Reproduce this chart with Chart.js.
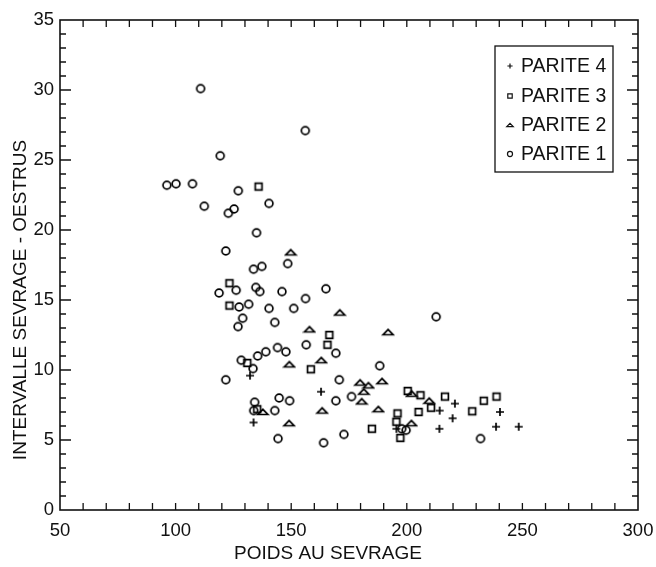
<!DOCTYPE html>
<html lang="fr">
<head>
    <meta charset="UTF-8">
    <title>Intervalle sevrage - oestrus</title>
    <style>
        body { margin: 0; background: #ffffff; }
        .chart-container { position: relative; width: 656px; height: 567px; }
    </style>
</head>
<body>
    <div class="chart-container">
        <canvas id="graphique"></canvas>
    </div>

    <script src="https://cdn.jsdelivr.net/npm/chart.js"></script>
    <script>
        // Données
        const parite1X = [96.2, 100.2, 107.3, 110.8, 112.4, 119.3, 122.8, 125.3, 127.1, 140.4, 156.1, 135.0, 121.7, 133.7, 137.3, 148.5,
            118.8, 126.2, 134.7, 136.4, 146.0, 156.2, 165.0, 127.5, 131.6, 140.4, 151.1, 129.0, 127.0, 142.9, 212.7,
            156.5, 144.1, 147.7, 139.0, 135.5, 169.3, 128.4, 133.5, 121.7, 170.8, 188.3,
            134.2, 133.8, 142.9, 144.8, 149.3, 169.3, 176.1, 144.3, 164.0, 172.8, 197.8, 199.7, 231.9];
        const parite1Y = [23.2, 23.3, 23.3, 30.1, 21.7, 25.3, 21.2, 21.5, 22.8, 21.9, 27.1, 19.8, 18.5, 17.2, 17.4, 17.6,
            15.5, 15.7, 15.9, 15.6, 15.6, 15.1, 15.8, 14.5, 14.7, 14.4, 14.4, 13.7, 13.1, 13.4, 13.8,
            11.8, 11.6, 11.3, 11.3, 11.0, 11.2, 10.7, 10.1, 9.3, 9.3, 10.3,
            7.7, 7.1, 7.1, 8.0, 7.8, 7.8, 8.1, 5.1, 4.8, 5.4, 5.8, 5.7, 5.1];

        const parite2X = [149.8, 171.0, 157.9, 191.9, 149.2, 163.0, 179.8, 189.3, 183.4, 181.4, 180.5, 187.7, 163.4, 137.7, 149.1, 202.0, 202.1, 209.7];
        const parite2Y = [18.4, 14.1, 12.9, 12.7, 10.4, 10.7, 9.1, 9.2, 8.9, 8.45, 7.75, 7.2, 7.1, 7.0, 6.2, 6.2, 8.3, 7.8];

        const parite3X = [135.9, 123.3, 123.3, 131.0, 166.5, 165.7, 158.5, 135.3, 184.9, 196.0, 195.5, 197.2, 200.4, 205.9, 205.1, 210.5, 216.5, 228.3, 233.3, 238.8];
        const parite3Y = [23.1, 16.2, 14.6, 10.5, 12.5, 11.8, 10.05, 7.2, 5.8, 6.9, 6.3, 5.15, 8.5, 8.2, 7.0, 7.3, 8.1, 7.05, 7.8, 8.1];

        const parite4X = [132.2, 133.7, 162.9, 195.5, 214.2, 214.1, 220.8, 219.8, 240.3, 238.6, 248.4];
        const parite4Y = [9.6, 6.25, 8.45, 5.8, 7.1, 5.8, 7.6, 6.55, 7.0, 5.95, 5.95];

        const legendeNoms = ['PARITE 4', 'PARITE 3', 'PARITE 2', 'PARITE 1'];
        const ticksX = [50, 100, 150, 200, 250, 300];
        const ticksY = [0, 5, 10, 15, 20, 25, 30, 35];

        const encre = '#111111';
        const police = '"Liberation Sans", Arial, Helvetica, sans-serif';

        // dessine un symbole centré en (x, y)
        function dessinerSymbole(ctx, type, x, y, t) {
            ctx.beginPath();
            if (type === 'cercle') {
                ctx.arc(x, y, 3.9 * t, 0, Math.PI * 2);
            } else if (type === 'carre') {
                ctx.rect(x - 3.4 * t, y - 3.4 * t, 6.8 * t, 6.8 * t);
            } else if (type === 'triangle') {
                ctx.moveTo(x - 5 * t, y + 2.5 * t);
                ctx.lineTo(x + 5 * t, y + 2.5 * t);
                ctx.lineTo(x, y - 2.7 * t);
                ctx.closePath();
            } else {
                ctx.moveTo(x - 4 * t, y);
                ctx.lineTo(x + 4 * t, y);
                ctx.moveTo(x, y - 4 * t);
                ctx.lineTo(x, y + 4 * t);
            }
            ctx.stroke();
        }

        function symboleCanvas(type) {
            const c = document.createElement('canvas');
            c.width = 14;
            c.height = 14;
            const ctx = c.getContext('2d');
            ctx.strokeStyle = '#000000';
            ctx.lineWidth = 1.7;
            dessinerSymbole(ctx, type, 7, 7, 1);
            return c;
        }

        const types = ['plus', 'carre', 'triangle', 'cercle'];
        const series = [[parite4X, parite4Y], [parite3X, parite3Y], [parite2X, parite2Y], [parite1X, parite1Y]];

        const datasets = series.map((s, i) => ({
            label: legendeNoms[i],
            data: s[0].map((x, j) => ({ x: x, y: s[1][j] })),
            pointStyle: symboleCanvas(types[i]),
            pointRadius: 5,
            pointHoverRadius: 5
        }));

        // cadre, graduations intérieures, titres des axes et légende
        const habillage = {
            id: 'habillage',
            afterDraw(chart) {
                const ctx = chart.ctx;
                const a = chart.chartArea;
                const sx = chart.scales.x;
                const sy = chart.scales.y;
                ctx.save();
                ctx.strokeStyle = encre;
                ctx.lineWidth = 1.6;
                ctx.strokeRect(a.left, a.top, a.right - a.left, a.bottom - a.top);

                ctx.lineWidth = 1.3;
                ctx.beginPath();
                for (let v = 60; v < 300; v += 10) {
                    const px = sx.getPixelForValue(v);
                    ctx.moveTo(px, a.bottom);
                    ctx.lineTo(px, a.bottom - 7);
                    ctx.moveTo(px, a.top);
                    ctx.lineTo(px, a.top + 7);
                }
                for (let v = 1; v < 35; v++) {
                    const py = sy.getPixelForValue(v);
                    const l = v % 5 === 0 ? 11 : 6;
                    ctx.moveTo(a.left, py);
                    ctx.lineTo(a.left + l, py);
                    ctx.moveTo(a.right, py);
                    ctx.lineTo(a.right - l, py);
                }
                ctx.stroke();

                ctx.fillStyle = encre;
                ctx.font = '19px ' + police;
                ctx.textAlign = 'center';
                ctx.textBaseline = 'middle';
                ctx.fillText('POIDS AU SEVRAGE', 328, 554);
                ctx.save();
                ctx.translate(21, 300);
                ctx.rotate(-Math.PI / 2);
                ctx.fillText('INTERVALLE SEVRAGE - OESTRUS', 0, 0);
                ctx.restore();

                // légende
                ctx.lineWidth = 1.3;
                ctx.strokeRect(495, 46, 118, 126);
                ctx.textAlign = 'left';
                ctx.font = '19.5px ' + police;
                const lignes = [66, 96, 125, 154];
                ctx.lineWidth = 1.2;
                lignes.forEach((y, i) => {
                    dessinerSymbole(ctx, types[i], 510, y, 0.65);
                    ctx.fillText(legendeNoms[i], 521, y + 1);
                });
                ctx.restore();
            }
        };

        new Chart(document.getElementById('graphique'), {
            type: 'scatter',
            data: { datasets: datasets },
            options: {
                responsive: true,
                maintainAspectRatio: false,
                animation: false,
                layout: { padding: { top: 20, right: 18, left: 0, bottom: 0 } },
                plugins: {
                    legend: { display: false },
                    tooltip: { enabled: false }
                },
                scales: {
                    x: {
                        type: 'linear',
                        min: 50,
                        max: 300,
                        afterBuildTicks(scale) { scale.ticks = ticksX.map(v => ({ value: v })); },
                        afterFit(scale) {
                            scale.height = 57;
                            scale.paddingLeft = 0;
                            scale.paddingRight = 0;
                        },
                        grid: { display: false, drawTicks: false },
                        border: { display: false },
                        ticks: {
                            padding: 10,
                            color: encre,
                            font: { family: police, size: 18.5 },
                            maxRotation: 0
                        }
                    },
                    y: {
                        type: 'linear',
                        min: 0,
                        max: 35,
                        afterBuildTicks(scale) { scale.ticks = ticksY.map(v => ({ value: v })); },
                        afterFit(scale) {
                            scale.width = 60;
                            scale.paddingTop = 0;
                            scale.paddingBottom = 0;
                        },
                        grid: { display: false, drawTicks: false },
                        border: { display: false },
                        ticks: {
                            padding: 6,
                            color: encre,
                            font: { family: police, size: 18.5 }
                        }
                    }
                }
            },
            plugins: [habillage]
        });
    </script>
</body>
</html>
